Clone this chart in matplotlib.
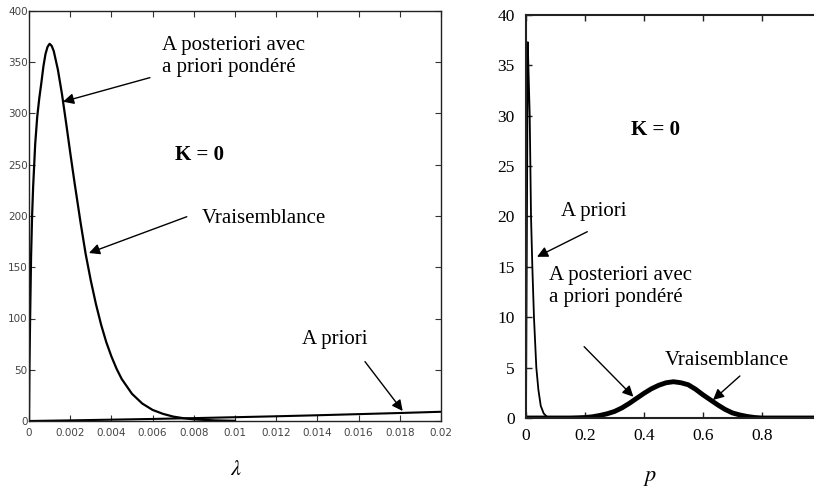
import matplotlib
matplotlib.use("Agg")
import matplotlib.pyplot as plt

plt.rcParams["mathtext.fontset"] = "stix"

# ---------------- data ----------------
lam = [0, 0.00002, 0.00005, 0.0001, 0.00015, 0.0002, 0.0003, 0.0004, 0.0005,
       0.0006, 0.0007, 0.0008, 0.0009, 0.001, 0.0011, 0.0012, 0.0014, 0.0016,
       0.0018, 0.002, 0.0022, 0.0025, 0.00275, 0.003, 0.00325, 0.0035,
       0.00375, 0.004, 0.00425, 0.0045, 0.005, 0.0055, 0.006, 0.0065, 0.007,
       0.0075, 0.008, 0.009, 0.01]
post_lam = [0, 50, 95, 160, 200, 228, 270, 297, 315, 330, 346, 358, 365, 368,
            366, 361, 343, 319, 291, 262, 234, 194, 163, 137, 114, 94, 77, 63,
            51, 41, 26.5, 17, 10.8, 7, 4.3, 2.7, 1.6, 0.6, 0.2]

prior_lam_x = [0, 0.002, 0.004, 0.006, 0.008, 0.010, 0.012, 0.014, 0.016, 0.018, 0.020]
prior_lam_y = [0, 0.6, 1.3, 2.0, 2.8, 3.7, 4.6, 5.6, 6.7, 7.8, 9.0]

p_prior = [0, 0.006, 0.008, 0.0126, 0.017, 0.0215, 0.027, 0.035, 0.042, 0.05,
           0.06, 0.07, 0.08, 0.1, 1.0]
prior_p = [0, 37.3, 35, 30, 20, 15, 10, 5, 2.8, 1.2, 0.45, 0.15, 0, 0, 0]

p_like = [0, 0.1, 0.15, 0.175, 0.2, 0.225, 0.25, 0.275, 0.3, 0.325, 0.35,
          0.375, 0.4, 0.425, 0.45, 0.475, 0.5, 0.525, 0.55, 0.575, 0.6, 0.625,
          0.65, 0.675, 0.7, 0.725, 0.75, 0.775, 0.8, 0.85, 1.0]
like_p = [0, 0, 0, 0.02, 0.05, 0.12, 0.25, 0.42, 0.65, 1.0, 1.45, 1.95, 2.45,
          2.9, 3.25, 3.5, 3.6, 3.5, 3.3, 2.85, 2.3, 1.8, 1.3, 0.85, 0.5, 0.3,
          0.15, 0.05, 0, 0, 0]

left_xticks = [0, 0.002, 0.004, 0.006, 0.008, 0.01, 0.012, 0.014, 0.016, 0.018, 0.02]
left_xlabels = ["0", "0.002", "0.004", "0.006", "0.008", "0.01", "0.012",
                "0.014", "0.016", "0.018", "0.02"]
left_yticks = [0, 50, 100, 150, 200, 250, 300, 350, 400]
right_xticks = [0, 0.2, 0.4, 0.6, 0.8, 1.0]
right_xlabels = ["0", "0.2", "0.4", "0.6", "0.8", ""]
right_yticks = [0, 5, 10, 15, 20, 25, 30, 35, 40]

W, H = 814, 490
fig = plt.figure(figsize=(W / 100, H / 100), dpi=100)

serif = ["Liberation Serif", "DejaVu Serif"]
sans = ["DejaVu Sans"]
FS = 15

def px_axes(l, r, t, b):
    return [l / W, 1 - b / H, (r - l) / W, (b - t) / H]

# ---------------- left panel ----------------
ax1 = fig.add_axes(px_axes(29, 441, 11, 421))
ax1.plot(prior_lam_x, prior_lam_y, color="black", lw=1.5)
ax1.plot(lam, post_lam, color="black", lw=1.6)
ax1.set_xlim(0, 0.02)
ax1.set_ylim(0, 400)
ax1.set_xticks(left_xticks)
ax1.set_xticklabels(left_xlabels)
ax1.set_yticks(left_yticks)
ax1.tick_params(direction="in", top=True, right=True, length=4, width=0.8,
                labelsize=7.5, labelcolor="#444444", color="#333333")
ax1.tick_params(axis="x", pad=5)
ax1.tick_params(axis="y", pad=1)
for lab in ax1.get_xticklabels() + ax1.get_yticklabels():
    lab.set_family(sans)
for s in ax1.spines.values():
    s.set_linewidth(1.0)
    s.set_color("#222222")
ax1.set_xlabel(r"$\lambda$", fontsize=16)
ax1.xaxis.set_label_coords(0.503, -0.093)

arrow_kw = dict(arrowstyle="-|>", color="black", lw=1.0, mutation_scale=16,
                shrinkA=0, shrinkB=0)

ax1.text(0.00646, 340.5, "A posteriori avec\na priori pondéré", family=serif,
         fontsize=FS, va="baseline", ha="left", linespacing=1.2)
ax1.annotate("", xy=(0.00165, 311.5), xytext=(0.00587, 335), arrowprops=arrow_kw)
ax1.text(0.00709, 254.6, "K = 0", family=serif, fontsize=FS,
         fontweight="bold", va="baseline", ha="left")
ax1.text(0.00838, 193.2, "Vraisemblance", family=serif, fontsize=FS,
         va="baseline", ha="left")
ax1.annotate("", xy=(0.00291, 163.9), xytext=(0.00766, 199.3), arrowprops=arrow_kw)
ax1.text(0.01324, 75.1, "A priori", family=serif, fontsize=FS,
         va="baseline", ha="left")
ax1.annotate("", xy=(0.01814, 9.76), xytext=(0.01631, 57.9), arrowprops=arrow_kw)

# ---------------- right panel ----------------
ax2 = fig.add_axes(px_axes(526, 821, 15, 418))
ax2.plot(p_prior, prior_p, color="black", lw=1.3)
ax2.plot(p_like, like_p, color="black", lw=3.5, solid_capstyle="butt")
ax2.set_xlim(0, 1)
ax2.set_ylim(0, 40)
ax2.set_xticks(right_xticks)
ax2.set_xticklabels(right_xlabels)
ax2.set_yticks(right_yticks)
ax2.tick_params(direction="in", top=True, right=False, length=4, width=1.0,
                labelsize=12.5, color="#222222")
ax2.tick_params(axis="x", pad=7)
ax2.tick_params(axis="y", pad=8)
for lab in ax2.get_xticklabels() + ax2.get_yticklabels():
    lab.set_family(serif)
for s in ax2.spines.values():
    s.set_linewidth(1.5)
    s.set_color("#222222")
ax2.set_xlabel(r"$p$", fontsize=16)
ax2.xaxis.set_label_coords(0.42, -0.125)

ax2.text(0.356, 28.1, "K = 0", family=serif, fontsize=FS,
         fontweight="bold", va="baseline", ha="left")
ax2.text(0.118, 20.05, "A priori", family=serif, fontsize=FS,
         va="baseline", ha="left")
ax2.annotate("", xy=(0.0374, 16.0), xytext=(0.2077, 18.49), arrowprops=arrow_kw)
ax2.text(0.078, 11.54, "A posteriori avec\na priori pondéré", family=serif,
         fontsize=FS, va="baseline", ha="left", linespacing=1.2)
ax2.annotate("", xy=(0.364, 2.11), xytext=(0.197, 7.08), arrowprops=arrow_kw)
ax2.text(0.47, 5.26, "Vraisemblance", family=serif, fontsize=FS,
         va="baseline", ha="left")
ax2.annotate("", xy=(0.634, 1.79), xytext=(0.725, 4.17), arrowprops=arrow_kw)

fig.savefig("out.png", dpi=100)
